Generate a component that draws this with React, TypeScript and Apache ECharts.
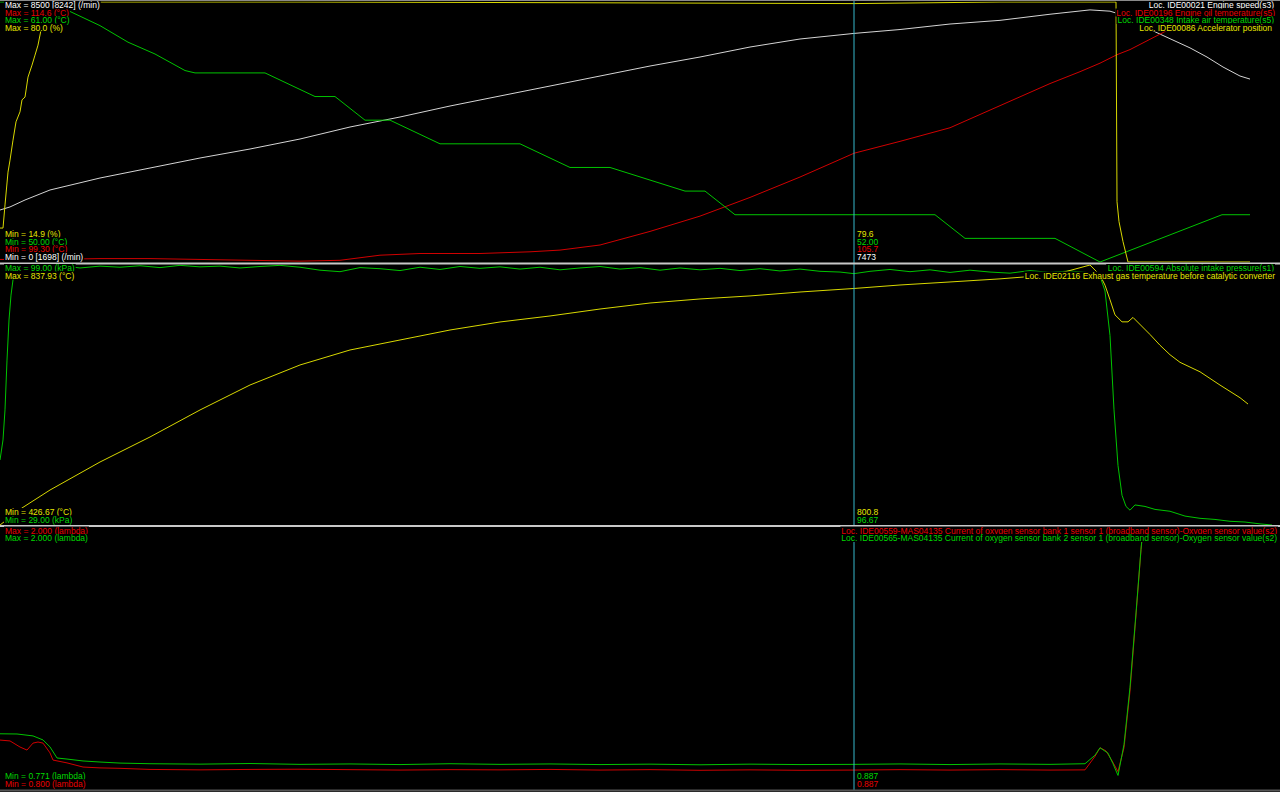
import React, { useEffect, useRef } from "react";
import * as echarts from "echarts";

// ---- Data: [time index, value] ----
const rpmData: [number, number][] = [
  [0, 1700], [10, 1800], [25, 2027], [50, 2354], [75, 2550], [100, 2746], [150, 3073], [200, 3400],
  [250, 3694], [300, 4021], [350, 4413], [400, 4740], [450, 5100], [500, 5427], [550, 5753],
  [600, 6080], [650, 6407], [700, 6701], [750, 7028], [800, 7290], [854, 7473], [900, 7600],
  [950, 7780], [1000, 7900], [1050, 8100], [1090, 8242], [1110, 8200], [1115, 8150], [1130, 7970],
  [1145, 7680], [1162, 7420], [1190, 7000], [1207, 6700], [1223, 6375], [1240, 6080], [1250, 5980],
];
const oilTempData: [number, number][] = [
  [0, 99.45], [50, 99.45], [100, 99.5], [150, 99.5], [200, 99.45], [250, 99.4], [300, 99.35],
  [340, 99.4], [380, 99.7], [420, 99.8], [480, 99.8], [530, 99.9], [560, 100.0], [600, 100.3],
  [650, 101.1], [700, 102.0], [750, 103.1], [800, 104.3], [854, 105.7], [900, 106.4], [950, 107.2],
  [1000, 108.5], [1050, 109.8], [1080, 110.5], [1100, 111.0], [1117, 111.5], [1130, 111.8],
  [1163, 112.8], [1200, 114.0], [1250, 114.6],
];
const intakeAirData: [number, number][] = [
  [0, 61], [55, 61], [70, 60.6], [100, 60], [128, 59.3], [155, 58.8], [185, 58.1], [195, 58],
  [265, 58], [315, 57], [335, 57], [365, 56], [390, 56], [440, 55], [520, 55], [570, 54], [610, 54],
  [685, 53], [705, 53], [735, 52], [935, 52], [965, 51], [1055, 51], [1100, 50], [1222, 52], [1250, 52],
];
const throttleData: [number, number][] = [
  [0, 23.4], [3, 23.4], [5, 29.2], [8, 37.4], [10, 40.4], [13, 45.4], [16, 50], [20, 52.5], [22, 55.5],
  [25, 56.2], [28, 61.2], [32, 64.2], [35, 66.7], [38, 69.2], [41, 73], [45, 80], [300, 80], [600, 79.8],
  [854, 79.6], [1000, 80], [1116, 80], [1117, 30], [1119, 25], [1123, 20], [1128, 14.9], [1250, 14.9],
];
const mapData: [number, number][] = [
  [0, 46.5], [3, 51.9], [5, 60], [7, 73.4], [9, 84.2], [11, 90.9], [13, 95], [16, 97.6], [20, 98.5],
  [40, 98.6], [60, 98.9], [80, 98.2], [100, 98.7], [120, 98.4], [140, 98.8], [160, 98.3], [180, 98.9],
  [200, 98.5], [220, 98.7], [240, 98.2], [260, 98.6], [280, 98.9], [300, 98.4], [320, 97.6], [340, 97.2],
  [360, 98.3], [380, 98.0], [400, 97.5], [420, 98.4], [440, 97.8], [460, 98.6], [480, 98.1], [500, 98.5],
  [520, 97.9], [540, 98.4], [560, 97.7], [580, 98.2], [600, 98.6], [620, 97.9], [640, 98.3], [660, 97.6],
  [680, 98.2], [700, 97.7], [720, 98.1], [740, 97.5], [760, 98.0], [780, 97.4], [800, 97.9], [820, 97.3],
  [840, 97.1], [854, 96.67], [870, 97.3], [890, 97.8], [910, 97.2], [930, 97.7], [950, 97.0], [970, 97.6],
  [990, 97.1], [1010, 96.8], [1030, 97.5], [1050, 97.0], [1070, 97.4], [1090, 96.9], [1100, 96.0],
  [1105, 92], [1110, 80], [1114, 60], [1118, 45], [1122, 37], [1126, 34], [1130, 33.0], [1135, 34.4],
  [1145, 34.0], [1155, 33.2], [1170, 32.7], [1185, 31.4], [1200, 30.8], [1215, 30.5], [1230, 30.0],
  [1245, 29.8], [1260, 29.3], [1272, 29.0],
];
const egtData: [number, number][] = [
  [0, 426.67], [22, 453.6], [50, 482.0], [100, 526.3], [150, 565.9], [200, 608.6], [250, 648.1],
  [300, 679.8], [350, 703.5], [400, 719.3], [450, 735.1], [500, 747.8], [550, 757.3], [600, 768.3],
  [650, 777.8], [700, 784.2], [750, 789.0], [800, 795.2], [854, 800.8], [900, 806.3], [950, 811.1],
  [1000, 816.0], [1025, 819.1], [1060, 825], [1090, 837.93], [1100, 822], [1105, 806], [1110, 783],
  [1115, 759], [1122, 748], [1128, 748], [1133, 755], [1150, 728], [1160, 711], [1170, 696],
  [1180, 684], [1200, 669], [1220, 648], [1240, 628], [1248, 618],
];
const lambdaBank1Data: [number, number][] = [
  [0, 1.025], [10, 1.021], [20, 0.993], [27, 0.979], [33, 1.011], [38, 1.016], [43, 1.011], [50, 0.966],
  [53, 0.933], [67, 0.92], [83, 0.901], [100, 0.897], [120, 0.895], [150, 0.89], [200, 0.888],
  [250, 0.89], [300, 0.891], [350, 0.889], [400, 0.887], [450, 0.889], [500, 0.888], [550, 0.89],
  [600, 0.887], [650, 0.889], [700, 0.886], [750, 0.888], [800, 0.886], [854, 0.887], [900, 0.889],
  [950, 0.887], [1000, 0.889], [1050, 0.887], [1085, 0.888], [1095, 0.95], [1100, 0.99], [1106, 0.975],
  [1112, 0.93], [1118, 0.88], [1124, 0.99], [1130, 1.25], [1136, 1.6], [1141, 1.9], [1143, 2.0], [1250, 2.0],
];
const lambdaBank2Data: [number, number][] = [
  [0, 1.031], [17, 1.03], [33, 1.021], [43, 1.002], [50, 0.969], [57, 0.917], [67, 0.912], [83, 0.903],
  [100, 0.898], [120, 0.893], [150, 0.89], [200, 0.888], [250, 0.891], [300, 0.887], [350, 0.889],
  [400, 0.886], [450, 0.89], [500, 0.887], [550, 0.889], [600, 0.886], [650, 0.888], [700, 0.885],
  [750, 0.888], [800, 0.886], [854, 0.887], [900, 0.889], [950, 0.886], [1000, 0.889], [1050, 0.887],
  [1085, 0.89], [1095, 0.93], [1100, 0.965], [1108, 0.94], [1113, 0.89], [1118, 0.835], [1124, 0.98],
  [1130, 1.25], [1136, 1.6], [1141, 1.9], [1143, 2.0], [1250, 2.0],
];

const CURSOR_T = 854;

const C_WHITE = "#d4d4d4";
const C_RED = "#d00000";
const C_GREEN = "#00c400";
const C_YELLOW = "#d8d800";
const T_WHITE = "#ffffff";
const T_RED = "#e80000";
const T_GREEN = "#00d800";
const T_YELLOW = "#e6e600";

const FS = 8.5;
const FF = '"Liberation Sans", Arial, sans-serif';

function txt(text: string, x: number, y: number, fill: string, align: string = "left") {
  return {
    type: "text",
    z: 100,
    x,
    y,
    silent: true,
    style: {
      text,
      fill,
      fontSize: FS,
      fontFamily: FF,
      lineHeight: 8,
      align,
      verticalAlign: "middle",
      backgroundColor: "#000",
      padding: [0, 1],
    },
  };
}

function hline(y: number, stroke: string, w: number) {
  return { type: "line", z: 98, silent: true, shape: { x1: 0, y1: y, x2: 1280, y2: y }, style: { stroke, lineWidth: w } };
}

export default function App() {
  const ref = useRef<HTMLDivElement>(null);
  useEffect(() => {
    const chart = echarts.init(ref.current!, null, { renderer: "svg" });
    const grids = [
      { left: 0, right: 0, top: 2, height: 260 },
      { left: 0, right: 0, top: 265, height: 260 },
      { left: 0, right: 0, top: 528, height: 261 },
    ];
    const xAxes = [0, 1, 2].map((g) => ({ type: "value", gridIndex: g, min: 0, max: 1280, show: false }));
    const yAxes = [
      { gridIndex: 0, min: 0, max: 8500 },
      { gridIndex: 0, min: 99.3, max: 114.6 },
      { gridIndex: 0, min: 50, max: 61 },
      { gridIndex: 0, min: 14.9, max: 80 },
      { gridIndex: 1, min: 29, max: 99 },
      { gridIndex: 1, min: 426.67, max: 837.93 },
      { gridIndex: 2, min: 0.8, max: 2.0 },
      { gridIndex: 2, min: 0.771, max: 2.0 },
    ].map((a) => ({ type: "value", show: false, splitLine: { show: false }, ...a }));
    const mk = (name: string, data: [number, number][], xi: number, yi: number, color: string) => ({
      name,
      type: "line",
      xAxisIndex: xi,
      yAxisIndex: yi,
      data,
      showSymbol: false,
      symbol: "none",
      silent: true,
      lineStyle: { color, width: 1 },
      itemStyle: { color },
    });
    const series = [
      mk("Engine speed", rpmData, 0, 0, C_WHITE),
      mk("Engine oil temperature", oilTempData, 0, 1, C_RED),
      mk("Intake air temperature", intakeAirData, 0, 2, C_GREEN),
      mk("Accelerator position", throttleData, 0, 3, C_YELLOW),
      mk("Absolute intake pressure", mapData, 1, 4, C_GREEN),
      mk("Exhaust gas temperature", egtData, 1, 5, C_YELLOW),
      mk("Lambda bank 1", lambdaBank1Data, 2, 6, C_RED),
      mk("Lambda bank 2", lambdaBank2Data, 2, 7, C_GREEN),
    ];
    const cx = CURSOR_T + 2;
    const RX = 1275;
    const graphic = [
      hline(0.5, "#8a8a8a", 1),
      hline(263.5, "#c8c8c8", 2),
      hline(526, "#c8c8c8", 2),
      hline(790.5, "#555555", 2),
      { type: "line", z: 95, silent: true, shape: { x1: CURSOR_T, y1: 0, x2: CURSOR_T, y2: 790 }, style: { stroke: "#36b8cc", lineWidth: 1 } },
      // top panel
      txt("Max = 8500 [8242] (/min)", 4, 5, T_WHITE),
      txt("Max = 114.6 (°C)", 4, 12.5, T_RED),
      txt("Max = 61.00 (°C)", 4, 20, T_GREEN),
      txt("Max = 80.0 (%)", 4, 27.5, T_YELLOW),
      txt("Min = 14.9 (%)", 4, 234, T_YELLOW),
      txt("Min = 50.00 (°C)", 4, 241.5, T_GREEN),
      txt("Min = 99.30 (°C)", 4, 249, T_RED),
      txt("Min = 0 [1698] (/min)", 4, 256.5, T_WHITE),
      txt("79.6", cx, 234, T_YELLOW),
      txt("52.00", cx, 241.5, T_GREEN),
      txt("105.7", cx, 249, T_RED),
      txt("7473", cx, 256.5, T_WHITE),
      txt("Loc. IDE00021 Engine speed(s3)", RX, 5, T_WHITE, "right"),
      txt("Loc. IDE00196 Engine oil temperature(s5)", RX + 1, 12.5, T_RED, "right"),
      txt("Loc. IDE00348 Intake air temperature(s5)", RX, 20, T_GREEN, "right"),
      txt("Loc. IDE00086 Accelerator position", RX - 2, 27.5, T_YELLOW, "right"),
      // middle panel
      txt("Max = 99.00 (kPa)", 4, 268, T_GREEN),
      txt("Max = 837.93 (°C)", 4, 275.5, T_YELLOW),
      txt("Min = 426.67 (°C)", 4, 512, T_YELLOW),
      txt("Min = 29.00 (kPa)", 4, 519.5, T_GREEN),
      txt("800.8", cx, 512, T_YELLOW),
      txt("96.67", cx, 519.5, T_GREEN),
      txt("Loc. IDE00594 Absolute intake pressure(s1)", RX, 268, T_GREEN, "right"),
      txt("Loc. IDE02116 Exhaust gas temperature before catalytic converter", RX + 1, 275.5, T_YELLOW, "right"),
      // bottom panel
      txt("Max = 2.000 (lambda)", 4, 530.5, T_RED),
      txt("Max = 2.000 (lambda)", 4, 538, T_GREEN),
      txt("Min = 0.771 (lambda)", 4, 776, T_GREEN),
      txt("Min = 0.800 (lambda)", 4, 783.5, T_RED),
      txt("0.887", cx, 776, T_GREEN),
      txt("0.887", cx, 783.5, T_RED),
      txt("Loc. IDE00559-MAS04135 Current of oxygen sensor bank 1 sensor 1 (broadband sensor)-Oxygen sensor value(s2)", 1278, 530.5, T_RED, "right"),
      txt("Loc. IDE00565-MAS04135 Current of oxygen sensor bank 2 sensor 1 (broadband sensor)-Oxygen sensor value(s2)", 1278, 538, T_GREEN, "right"),
    ];
    chart.setOption({
      animation: false,
      backgroundColor: "#000",
      grid: grids,
      xAxis: xAxes,
      yAxis: yAxes,
      series,
      graphic,
    });
    return () => chart.dispose();
  }, []);
  return (
    <div
      ref={ref}
      style={{ position: "absolute", left: 0, top: 0, width: 1280, height: 792, background: "#000" }}
    />
  );
}
